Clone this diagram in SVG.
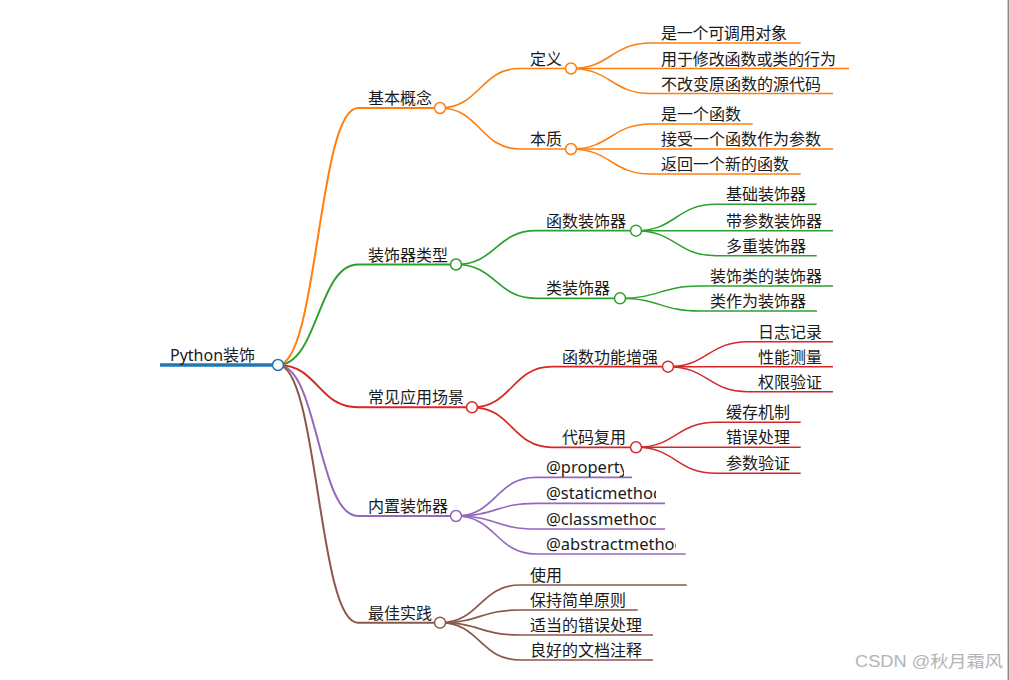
<svg xmlns="http://www.w3.org/2000/svg" width="1009" height="680" viewBox="0 0 1009 680">
<style>
.t{font-family:"Noto Sans","Noto Sans CJK SC",sans-serif;font-size:16px;fill:#1a1a1a}
.t.lat{font-size:16.5px}
.l{fill:none}
.c{fill:#fff;stroke-width:1.5}
.o{stroke:#ff7f0e}.g{stroke:#2ca02c}.r{stroke:#d62728}.p{stroke:#9467bd}.b{stroke:#8c564b}.bl{stroke:#1f77b4}
.w1{stroke-width:2}.w2{stroke-width:1.7}.w3{stroke-width:1.5}
</style>
<defs>
<clipPath id="cp1"><rect x="540" y="455" width="84" height="30"/></clipPath>
<clipPath id="cp2"><rect x="540" y="481" width="116" height="30"/></clipPath>
<clipPath id="cp3"><rect x="540" y="507" width="116" height="30"/></clipPath>
<clipPath id="cp4"><rect x="540" y="532" width="136" height="30"/></clipPath>
</defs>
<rect width="1009" height="680" fill="#fff"/>
<line x1="1008.3" y1="0" x2="1008.3" y2="680" stroke="#8a8a8a" stroke-width="1.5"/>

<g id="connectors" class="l">
<path class="o w1" d="M278 365C318 365 318 108 358 108"/>
<path class="g w1" d="M278 365C318 365 318 264.5 358 264.5"/>
<path class="r w1" d="M278 365C318 365 318 407.3 358 407.3"/>
<path class="p w1" d="M278 365C318 365 318 516 358 516"/>
<path class="b w1" d="M278 365C318 365 318 622.7 358 622.7"/>

<path class="o w2" d="M440 108C480 108 480 68.5 520 68.5"/>
<path class="o w2" d="M440 108C480 108 480 149 520 149"/>
<path class="o w3" d="M571 68.5C611 68.5 611 43 651 43"/>
<path class="o w3" d="M571 68.5C611 68.5 611 68.5 651 68.5"/>
<path class="o w3" d="M571 68.5C611 68.5 611 93.5 651 93.5"/>
<path class="o w3" d="M571 149C611 149 611 124 651 124"/>
<path class="o w3" d="M571 149C611 149 611 149 651 149"/>
<path class="o w3" d="M571 149C611 149 611 174 651 174"/>

<path class="g w2" d="M456 264.5C496 264.5 496 230.7 536 230.7"/>
<path class="g w2" d="M456 264.5C496 264.5 496 298.3 536 298.3"/>
<path class="g w3" d="M636 230.7C676 230.7 676 204.3 716 204.3"/>
<path class="g w3" d="M636 230.7C676 230.7 676 230.7 716 230.7"/>
<path class="g w3" d="M636 230.7C676 230.7 676 255.7 716 255.7"/>
<path class="g w3" d="M620 298.3C660 298.3 660 286 700 286"/>
<path class="g w3" d="M620 298.3C660 298.3 660 311 700 311"/>

<path class="r w2" d="M472 407.3C512 407.3 512 366.7 552 366.7"/>
<path class="r w2" d="M472 407.3C512 407.3 512 447.3 552 447.3"/>
<path class="r w3" d="M668 366.7C708 366.7 708 341.7 748 341.7"/>
<path class="r w3" d="M668 366.7C708 366.7 708 366.7 748 366.7"/>
<path class="r w3" d="M668 366.7C708 366.7 708 391.7 748 391.7"/>
<path class="r w3" d="M636 447.3C676 447.3 676 422.3 716 422.3"/>
<path class="r w3" d="M636 447.3C676 447.3 676 447.3 716 447.3"/>
<path class="r w3" d="M636 447.3C676 447.3 676 473.3 716 473.3"/>

<path class="p w2" d="M456 516C496 516 496 477.3 536 477.3"/>
<path class="p w2" d="M456 516C496 516 496 503.3 536 503.3"/>
<path class="p w2" d="M456 516C496 516 496 529 536 529"/>
<path class="p w2" d="M456 516C496 516 496 554 536 554"/>

<path class="b w2" d="M440 622.7C480 622.7 480 585 520 585"/>
<path class="b w2" d="M440 622.7C480 622.7 480 610 520 610"/>
<path class="b w2" d="M440 622.7C480 622.7 480 635 520 635"/>
<path class="b w2" d="M440 622.7C480 622.7 480 660 520 660"/>
</g>

<g id="root">
<line class="bl" x1="160" y1="365" x2="278" y2="365" stroke-width="3.5"/>
<circle class="c bl" cx="278" cy="365" r="5.5"/>
<text class="t" x="170" y="361">Python装饰</text>
</g>

<g id="n-jiben">
<line class="o w1" x1="358" y1="108" x2="440" y2="108"/>
<circle class="c o" cx="440" cy="108" r="5.5"/>
<text class="t" x="368" y="104">基本概念</text>
</g>
<g id="n-dingyi">
<line class="o w2" x1="520" y1="68.5" x2="571" y2="68.5"/>
<circle class="c o" cx="571" cy="68.5" r="5.5"/>
<text class="t" x="530" y="64.5">定义</text>
</g>
<g id="n-d1"><line class="o w3" x1="651" y1="43" x2="800.7" y2="43"/><text class="t" x="661" y="39" textLength="126" lengthAdjust="spacing">是一个可调用对象</text></g>
<g id="n-d2"><line class="o w3" x1="651" y1="68.5" x2="849" y2="68.5"/><text class="t" x="661" y="64.5" textLength="175" lengthAdjust="spacing">用于修改函数或类的行为</text></g>
<g id="n-d3"><line class="o w3" x1="651" y1="93.5" x2="833" y2="93.5"/><text class="t" x="661" y="89.5" textLength="160" lengthAdjust="spacing">不改变原函数的源代码</text></g>
<g id="n-benzhi">
<line class="o w2" x1="520" y1="149" x2="571" y2="149"/>
<circle class="c o" cx="571" cy="149" r="5.5"/>
<text class="t" x="530" y="145">本质</text>
</g>
<g id="n-b1"><line class="o w3" x1="651" y1="124" x2="752.7" y2="124"/><text class="t" x="661" y="120">是一个函数</text></g>
<g id="n-b2"><line class="o w3" x1="651" y1="149" x2="833" y2="149"/><text class="t" x="661" y="145" textLength="160" lengthAdjust="spacing">接受一个函数作为参数</text></g>
<g id="n-b3"><line class="o w3" x1="651" y1="174" x2="800.7" y2="174"/><text class="t" x="661" y="170" textLength="128" lengthAdjust="spacing">返回一个新的函数</text></g>

<g id="n-leixing">
<line class="g w1" x1="358" y1="264.5" x2="456" y2="264.5"/>
<circle class="c g" cx="456" cy="264.5" r="5.5"/>
<text class="t" x="368" y="260.5">装饰器类型</text>
</g>
<g id="n-hanshu">
<line class="g w2" x1="536" y1="230.7" x2="636" y2="230.7"/>
<circle class="c g" cx="636" cy="230.7" r="5.5"/>
<text class="t" x="546" y="226.7">函数装饰器</text>
</g>
<g id="n-h1"><line class="g w3" x1="716" y1="204.3" x2="816.7" y2="204.3"/><text class="t" x="726" y="200.3">基础装饰器</text></g>
<g id="n-h2"><line class="g w3" x1="716" y1="230.7" x2="833" y2="230.7"/><text class="t" x="726" y="226.7">带参数装饰器</text></g>
<g id="n-h3"><line class="g w3" x1="716" y1="255.7" x2="816.7" y2="255.7"/><text class="t" x="726" y="251.7">多重装饰器</text></g>
<g id="n-lei">
<line class="g w2" x1="536" y1="298.3" x2="620" y2="298.3"/>
<circle class="c g" cx="620" cy="298.3" r="5.5"/>
<text class="t" x="546" y="294.3">类装饰器</text>
</g>
<g id="n-l1"><line class="g w3" x1="700" y1="286" x2="833" y2="286"/><text class="t" x="710" y="282">装饰类的装饰器</text></g>
<g id="n-l2"><line class="g w3" x1="700" y1="311" x2="817" y2="311"/><text class="t" x="710" y="307">类作为装饰器</text></g>

<g id="n-changjian">
<line class="r w1" x1="358" y1="407.3" x2="472" y2="407.3"/>
<circle class="c r" cx="472" cy="407.3" r="5.5"/>
<text class="t" x="368" y="403.3">常见应用场景</text>
</g>
<g id="n-zengqiang">
<line class="r w2" x1="552" y1="366.7" x2="668" y2="366.7"/>
<circle class="c r" cx="668" cy="366.7" r="5.5"/>
<text class="t" x="562" y="362.7">函数功能增强</text>
</g>
<g id="n-z1"><line class="r w3" x1="748" y1="341.7" x2="833" y2="341.7"/><text class="t" x="758" y="337.7">日志记录</text></g>
<g id="n-z2"><line class="r w3" x1="748" y1="366.7" x2="833" y2="366.7"/><text class="t" x="758" y="362.7">性能测量</text></g>
<g id="n-z3"><line class="r w3" x1="748" y1="391.7" x2="833" y2="391.7"/><text class="t" x="758" y="387.7">权限验证</text></g>
<g id="n-fuyong">
<line class="r w2" x1="552" y1="447.3" x2="636" y2="447.3"/>
<circle class="c r" cx="636" cy="447.3" r="5.5"/>
<text class="t" x="562" y="443.3">代码复用</text>
</g>
<g id="n-f1"><line class="r w3" x1="716" y1="422.3" x2="800.7" y2="422.3"/><text class="t" x="726" y="418.3">缓存机制</text></g>
<g id="n-f2"><line class="r w3" x1="716" y1="447.3" x2="800.7" y2="447.3"/><text class="t" x="726" y="443.3">错误处理</text></g>
<g id="n-f3"><line class="r w3" x1="716" y1="473.3" x2="800.7" y2="473.3"/><text class="t" x="726" y="469.3">参数验证</text></g>

<g id="n-neizhi">
<line class="p w1" x1="358" y1="516" x2="456" y2="516"/>
<circle class="c p" cx="456" cy="516" r="5.5"/>
<text class="t" x="368" y="512">内置装饰器</text>
</g>
<g id="n-n1"><line class="p w2" x1="536" y1="477.3" x2="632" y2="477.3"/><text class="t lat" x="546" y="473.3" clip-path="url(#cp1)">@property</text></g>
<g id="n-n2"><line class="p w2" x1="536" y1="503.3" x2="665" y2="503.3"/><text class="t lat" x="546" y="499.3" clip-path="url(#cp2)">@staticmethod</text></g>
<g id="n-n3"><line class="p w2" x1="536" y1="529" x2="665" y2="529"/><text class="t lat" x="546" y="525" clip-path="url(#cp3)">@classmethod</text></g>
<g id="n-n4"><line class="p w2" x1="536" y1="554" x2="685.7" y2="554"/><text class="t lat" x="546" y="550" clip-path="url(#cp4)">@abstractmethod</text></g>

<g id="n-zuijia">
<line class="b w1" x1="358" y1="622.7" x2="440" y2="622.7"/>
<circle class="c b" cx="440" cy="622.7" r="5.5"/>
<text class="t" x="368" y="618.7">最佳实践</text>
</g>
<g id="n-z4"><line class="b w2" x1="520" y1="585" x2="686.7" y2="585"/><text class="t" x="530" y="581">使用</text></g>
<g id="n-z5"><line class="b w2" x1="520" y1="610" x2="637.7" y2="610"/><text class="t" x="530" y="606">保持简单原则</text></g>
<g id="n-z6"><line class="b w2" x1="520" y1="635" x2="653" y2="635"/><text class="t" x="530" y="631">适当的错误处理</text></g>
<g id="n-z7"><line class="b w2" x1="520" y1="660" x2="653" y2="660"/><text class="t" x="530" y="656">良好的文档注释</text></g>

<text x="855" y="667" font-family="'Liberation Sans','Noto Sans CJK SC',sans-serif" font-size="16" fill="#b4b4b4" textLength="148" lengthAdjust="spacingAndGlyphs">CSDN @秋月霜风</text>
</svg>
